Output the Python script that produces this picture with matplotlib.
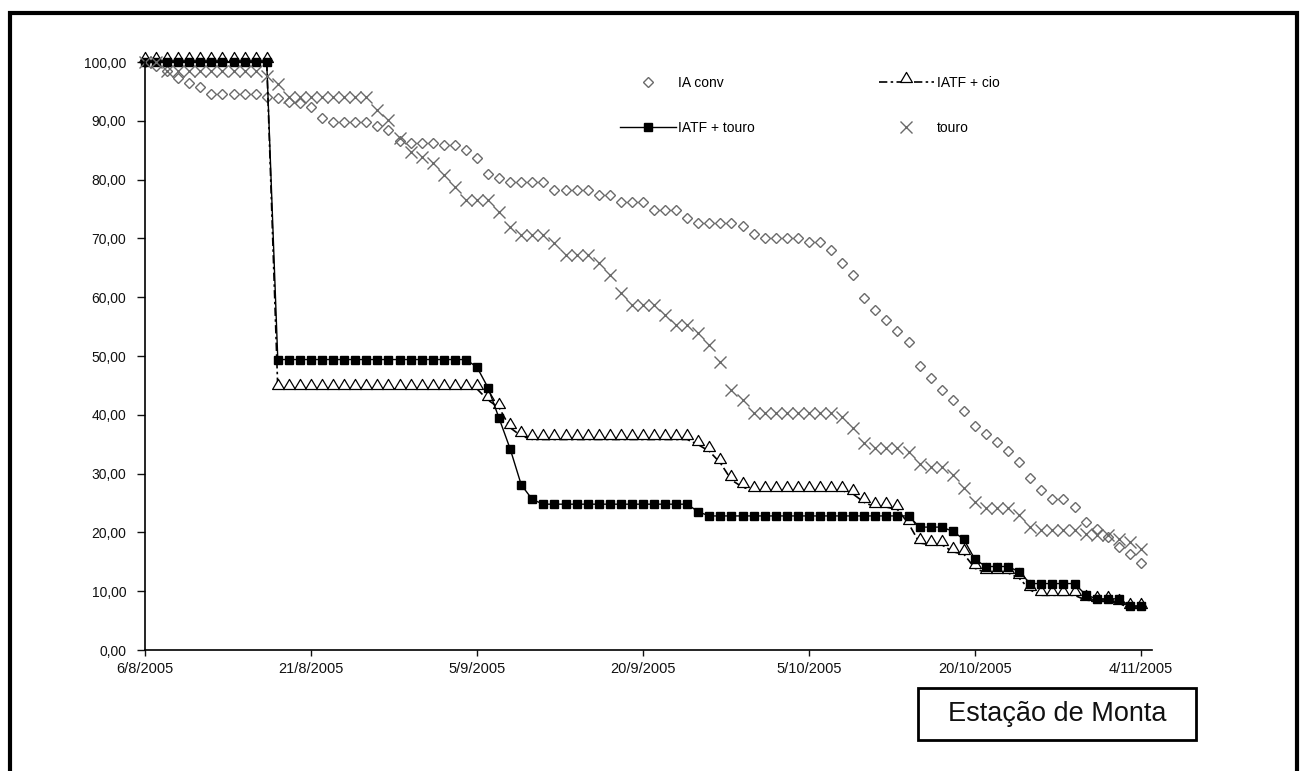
import datetime as dt

import matplotlib
matplotlib.use("Agg")
import matplotlib.pyplot as plt
from matplotlib.path import Path
from matplotlib.patches import Rectangle
from matplotlib.ticker import FuncFormatter, MultipleLocator

plt.rcParams['font.family'] = ['Liberation Sans', 'DejaVu Sans']

# ---- data (one point per day from 6/8/2005) ----
inicio = dt.date(2005, 8, 6)
fim_eixo = dt.date(2005, 11, 5)

ia_conv = [100.0, 99.4, 98.5, 97.2, 96.5, 95.8, 94.5, 94.5, 94.5, 94.5,
           94.5, 94.0, 93.9, 93.2, 93.1, 92.4, 90.4, 89.8, 89.8, 89.8,
           89.8, 89.1, 88.5, 86.6, 86.3, 86.3, 86.3, 85.9, 85.9, 85.0,
           83.6, 81.0, 80.3, 79.6, 79.6, 79.6, 79.6, 78.3, 78.3, 78.3,
           78.3, 77.4, 77.4, 76.2, 76.2, 76.2, 74.8, 74.8, 74.8, 73.4,
           72.7, 72.7, 72.7, 72.7, 72.1, 70.7, 70.0, 70.0, 70.0, 70.0,
           69.4, 69.4, 68.0, 65.9, 63.8, 59.8, 57.8, 56.2, 54.3, 52.3,
           48.3, 46.2, 44.2, 42.6, 40.7, 38.1, 36.7, 35.3, 33.9, 31.9,
           29.2, 27.2, 25.6, 25.6, 24.4, 21.8, 20.5, 19.3, 17.6, 16.3,
           14.8]

iatf_cio = [100, 100, 100, 100, 100, 100, 100, 100, 100, 100,
            100, 100, 44.4, 44.4, 44.4, 44.4, 44.4, 44.4, 44.4, 44.4,
            44.4, 44.4, 44.4, 44.4, 44.4, 44.4, 44.4, 44.4, 44.4, 44.4,
            44.4, 42.5, 41.2, 37.8, 36.4, 35.8, 35.8, 35.8, 35.8, 35.8,
            35.8, 35.8, 35.8, 35.8, 35.8, 35.8, 35.8, 35.8, 35.8, 35.8,
            34.9, 33.8, 31.8, 28.9, 27.7, 27.1, 27.1, 27.1, 27.1, 27.1,
            27.1, 27.1, 27.1, 27.1, 26.5, 25.1, 24.3, 24.3, 23.9, 21.5,
            18.2, 17.9, 17.9, 16.7, 16.3, 13.9, 13.1, 13.1, 13.1, 12.2,
            10.2, 9.3, 9.3, 9.3, 9.3, 8.5, 8.3, 8.3, 7.9, 7.2,
            7.2]

iatf_touro = [100, 100, 100, 100, 100, 100, 100, 100, 100, 100,
              100, 100, 49.4, 49.4, 49.4, 49.4, 49.4, 49.4, 49.4, 49.4,
              49.4, 49.4, 49.4, 49.4, 49.4, 49.4, 49.4, 49.4, 49.4, 49.4,
              48.1, 44.6, 39.4, 34.2, 28.1, 25.6, 24.8, 24.8, 24.8, 24.8,
              24.8, 24.8, 24.8, 24.8, 24.8, 24.8, 24.8, 24.8, 24.8, 24.8,
              23.5, 22.8, 22.8, 22.8, 22.8, 22.8, 22.8, 22.8, 22.8, 22.8,
              22.8, 22.8, 22.8, 22.8, 22.8, 22.8, 22.8, 22.8, 22.8, 22.8,
              20.9, 20.9, 20.9, 20.2, 18.8, 15.4, 14.2, 14.2, 14.2, 13.3,
              11.3, 11.3, 11.3, 11.3, 11.3, 9.4, 8.7, 8.7, 8.7, 7.5,
              7.5]

touro = [100, 100, 98.5, 98.5, 98.5, 98.5, 98.5, 98.5, 98.5, 98.5,
         98.5, 97.6, 96.3, 94.0, 94.0, 94.0, 94.0, 94.0, 94.0, 94.0,
         94.0, 91.8, 90.1, 87.0, 84.7, 83.9, 82.8, 80.8, 78.7, 76.6,
         76.6, 76.6, 74.5, 71.9, 70.6, 70.6, 70.6, 69.2, 67.2, 67.2,
         67.2, 65.8, 63.8, 60.7, 58.7, 58.7, 58.7, 57.0, 55.3, 55.3,
         53.9, 51.9, 49.0, 44.2, 42.5, 40.3, 40.3, 40.3, 40.3, 40.3,
         40.3, 40.3, 40.3, 39.7, 37.7, 35.2, 34.3, 34.3, 34.3, 33.7,
         31.7, 31.2, 31.2, 29.8, 27.5, 25.1, 24.1, 24.1, 24.1, 23.0,
         21.0, 20.4, 20.4, 20.4, 20.4, 19.8, 19.6, 19.6, 18.8, 18.4,
         17.2]

dias = [inicio + dt.timedelta(days=i) for i in range(len(ia_conv))]

datas_ticks = [dt.date(2005, 8, 6), dt.date(2005, 8, 21), dt.date(2005, 9, 5),
               dt.date(2005, 9, 20), dt.date(2005, 10, 5), dt.date(2005, 10, 20),
               dt.date(2005, 11, 4)]
rotulos_x = ['6/8/2005', '21/8/2005', '5/9/2005', '20/9/2005',
             '5/10/2005', '20/10/2005', '4/11/2005']

# ---- figure ----
W, H = 1304, 771
fig = plt.figure(figsize=(W / 100, H / 100), dpi=100)
ax = fig.add_axes([145 / W, (H - 650) / H, (1152 - 145) / W, (650 - 62) / H])

cinza = '#6a6a6a'
# triangle sitting on its point (Excel look: line runs along the base)
tri = Path([(-1, 0), (1, 0), (0, 1.7), (-1, 0)],
           [Path.MOVETO, Path.LINETO, Path.LINETO, Path.CLOSEPOLY])

h_ia, = ax.plot(dias, ia_conv, ls='none', marker='D', ms=5.3, mfc='white',
                mec=cinza, mew=1, label='IA conv', clip_on=False)
h_cio, = ax.plot(dias, iatf_cio, color='black', lw=1.2, ls=(0, (5, 2, 1.5, 2)),
                 marker=tri, ms=14.5, mfc='white', mec='black', mew=0.9,
                 label='IATF + cio', clip_on=False)
h_sq, = ax.plot(dias, iatf_touro, color='black', lw=1, marker='s', ms=5.5,
                mfc='black', mec='black', label='IATF + touro', clip_on=False)
h_x, = ax.plot(dias, touro, ls='none', marker='x', ms=8.5, mec=cinza, mew=1,
               label='touro', clip_on=False)

ax.set_ylim(0, 100)
ax.set_xlim(inicio, fim_eixo)
ax.yaxis.set_major_locator(MultipleLocator(10))
ax.yaxis.set_major_formatter(FuncFormatter(lambda v, p: f"{v:.2f}".replace('.', ',')))
ax.set_xticks(datas_ticks)
ax.set_xticklabels(rotulos_x)

for s in ['top', 'right']:
    ax.spines[s].set_visible(False)
for s in ['left', 'bottom']:
    ax.spines[s].set_linewidth(1.2)
    ax.spines[s].set_color('black')

ax.tick_params(axis='y', direction='out', length=5.5, width=1, pad=8,
               labelsize=10, colors='#111111')
ax.tick_params(axis='x', direction='out', length=4.5, width=1, pad=4,
               labelsize=10.5, colors='#111111')

ax.legend([h_ia, h_sq, h_cio, h_x],
          ['IA conv', 'IATF + touro', 'IATF + cio', 'touro'],
          ncol=2, loc='upper left', bbox_to_anchor=(620 / W, 1 - 76 / H),
          bbox_transform=fig.transFigure, frameon=False, fontsize=10,
          handlelength=4.0, handletextpad=0.2, columnspacing=8.9,
          labelspacing=2.2, borderpad=0, borderaxespad=0, numpoints=1)

# outer frame (bottom edge falls outside the picture)
fig.patches.append(Rectangle((9.5 / W, -0.1), (1297 - 9.5) / W, 1.1 - 13.5 / H,
                             transform=fig.transFigure, fill=False,
                             lw=3, ec='black'))

# "Estação de Monta" box
fig.patches.append(Rectangle((918 / W, (H - 740) / H), (1196 - 918) / W, 52 / H,
                             transform=fig.transFigure, fill=False,
                             lw=2, ec='black'))
fig.text((918 + 1196) / 2 / W, 1 - 714 / H, 'Estação de Monta',
         ha='center', va='center', fontsize=19.5, color='#111111')

fig.savefig('out.png', dpi=100)
